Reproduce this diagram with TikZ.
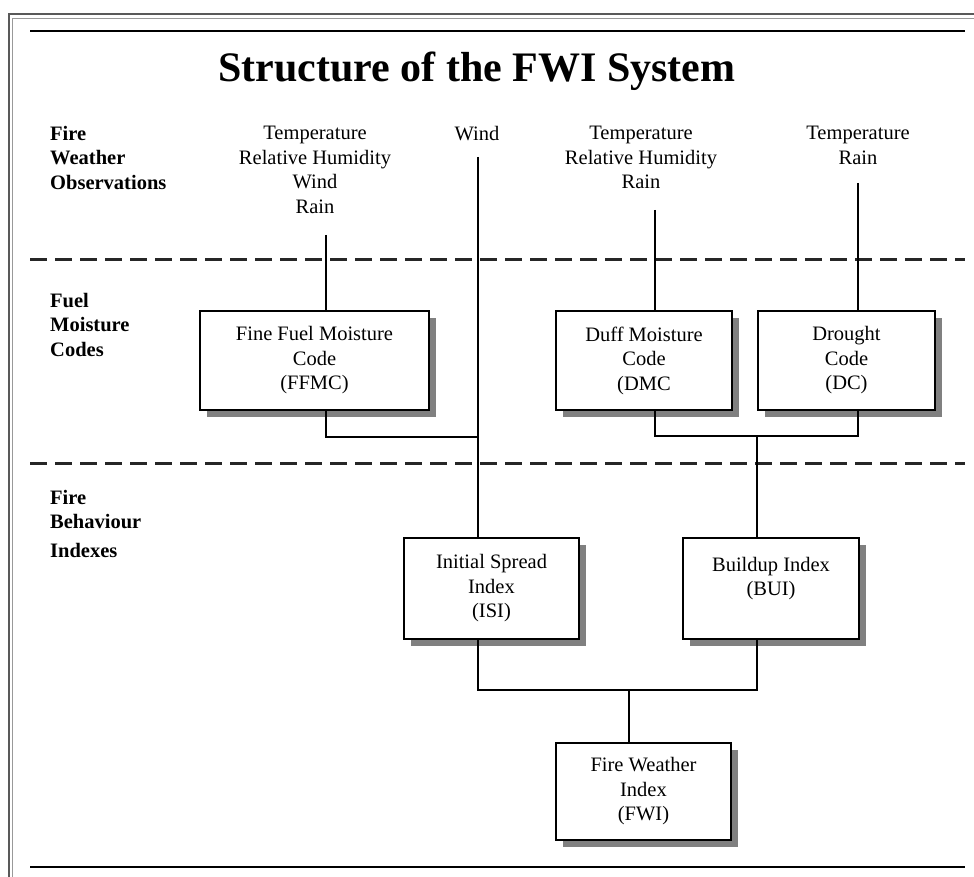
\documentclass[tikz,border=0pt]{standalone}
\usepackage{fontspec}
\setmainfont{Liberation Serif}
\usetikzlibrary{shadows}
\begin{document}
\begin{tikzpicture}[x=1pt,y=-1pt,
  txt/.style={font=\fontsize{20.5}{24.5}\selectfont, inner sep=0pt, align=center},
  lbl/.style={font=\bfseries\fontsize{20.5}{24.5}\selectfont, inner sep=0pt, align=left, anchor=north west},
  box/.style={draw, line width=2.5pt, fill=white, inner sep=0pt, align=center,
    font=\fontsize{20.5}{24.5}\selectfont,
    general shadow={fill=black!50, shadow xshift=7pt, shadow yshift=-7pt}},
  conn/.style={line width=2.2pt},
  rulel/.style={line width=2.8pt},
  sepline/.style={line width=3pt, black!85, dash pattern=on 17pt off 8pt}]
\useasboundingbox (0,0) rectangle (974,877);
\fill[white] (0,0) rectangle (974,877);
% frame
\draw[black!65, line width=2pt] (8.5,877) -- (8.5,14.5) -- (974,14.5);
\draw[black!40, line width=1.3pt] (12.5,877) -- (12.5,18.5) -- (974,18.5);
% rules
\draw[rulel] (30,31) -- (965,31);
\draw[rulel] (30,867) -- (965,867);
\draw[sepline] (30,260) -- (965,260);
\draw[sepline] (30,463) -- (965,463);
% title
\node[font=\bfseries\fontsize{42}{48}\selectfont, anchor=base, inner sep=0pt] (title) at (477,82) {Structure of the FWI System};
% left labels
\node[lbl] (lab1) at (50,126) {Fire\\Weather\\Observations};
\node[lbl] (lab2) at (50,293) {Fuel\\Moisture\\Codes};
\node[lbl] (lab3) at (50,490) {Fire\\Behaviour\\[4pt]Indexes};
% observations
\node[txt, anchor=north] (obs1) at (315,126) {Temperature\\Relative Humidity\\Wind\\Rain};
\node[txt, anchor=north] (obs2) at (477,126) {Wind};
\node[txt, anchor=north] (obs3) at (641,126) {Temperature\\Relative Humidity\\Rain};
\node[txt, anchor=north] (obs4) at (858,126) {Temperature\\Rain};
% boxes
\node[box, minimum width=229pt, minimum height=99pt] (ffmc) at (314.5,360.5) {Fine Fuel Moisture\\Code\\(FFMC)};
\node[box, minimum width=176pt, minimum height=99pt] (dmc) at (644,360.5) {Duff Moisture\\Code\\(DMC};
\node[box, minimum width=177pt, minimum height=99pt] (dc) at (846.5,360.5) {Drought\\Code\\(DC)};
\node[box, minimum width=175pt, minimum height=101pt] (isi) at (491.5,588.5) {Initial Spread\\Index\\(ISI)};
\node[box, minimum width=176pt, minimum height=101pt] (bui) at (771,588.5) {Buildup Index\\(BUI)\\\mbox{}};
\node[box, minimum width=175pt, minimum height=97pt] (fwi) at (643.5,791.5) {Fire Weather\\Index\\(FWI)};
% connector points
\coordinate (w1) at (326,235);
\coordinate (w2) at (478,157);
\coordinate (w3) at (655,210);
\coordinate (w4) at (858,183);
\coordinate (j1) at (478,437);
\coordinate (j2) at (757,436);
\coordinate (j3) at (629,690);
% connectors
\draw[conn] (w1) -- (w1 |- ffmc.north);
\draw[conn] (w2) -- (w2 |- isi.north);
\draw[conn] (w3) -- (w3 |- dmc.north);
\draw[conn] (w4) -- (w4 |- dc.north);
\draw[conn] (w1 |- ffmc.south) |- (j1);
\draw[conn] (w3 |- dmc.south) |- (w4 |- j2) -- (w4 |- dc.south);
\draw[conn] (j2) -- (j2 |- bui.north);
\draw[conn] (w2 |- isi.south) |- (j2 |- j3) -- (j2 |- bui.south);
\draw[conn] (j3) -- (j3 |- fwi.north);
\end{tikzpicture}
\end{document}
